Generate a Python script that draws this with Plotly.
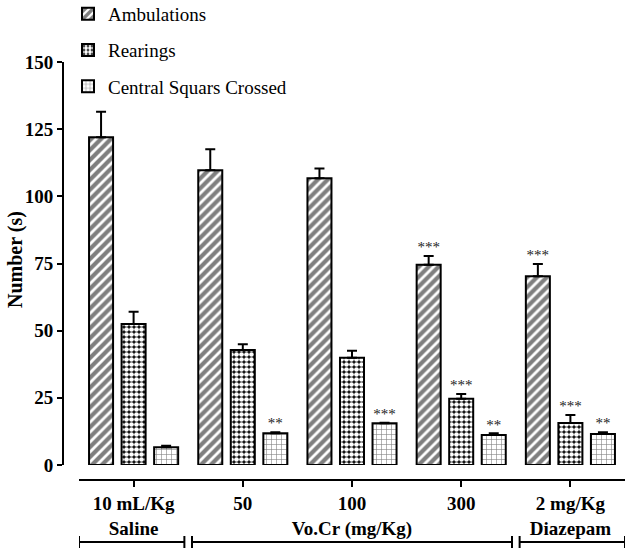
import plotly.graph_objects as go

# ---------------- data ----------------
groups = ["10 mL/Kg<br>Saline", "50", "100<br>Vo.Cr (mg/Kg)", "300", "2 mg/Kg<br>Diazepam"]
series_names = ["Ambulations", "Rearings", "Central Squars Crossed"]

ambulations = [122, 109.7, 106.7, 74.5, 70.3]
ambulations_err = [9.5, 7.8, 3.7, 3.3, 4.5]
ambulations_sig = ["", "", "", "***", "***"]

rearings = [52.5, 42.8, 39.9, 24.7, 15.6]
rearings_err = [4.5, 2.1, 2.6, 1.7, 3.0]
rearings_sig = ["", "", "", "***", "***"]

central = [6.6, 11.8, 15.5, 11.2, 11.5]
central_err = [0.6, 0.4, 0.2, 0.6, 0.7]
central_sig = ["", "**", "***", "**", "**"]

y_ticks = [0, 25, 50, 75, 100, 125, 150]
y_title = "Number (s)"

# group brackets: label, first group index, last group index
brackets = [("Saline", 0, 0), ("Vo.Cr (mg/Kg)", 1, 3), ("Diazepam", 4, 4)]

# ---------------- style ----------------
FONT = "Liberation Serif"
patterns = [
    dict(shape="/", fgcolor="black", bgcolor="white", size=7, solidity=0.6),
    dict(shape=".", fgcolor="white", bgcolor="black", size=5, solidity=0.7, fillmode="replace"),
    dict(shape="+", fgcolor="black", bgcolor="white", size=5, solidity=0.22),
]
slot = 0.298
bar_w = 0.22

fig = go.Figure()
all_vals = [ambulations, rearings, central]
all_errs = [ambulations_err, rearings_err, central_err]
all_sigs = [ambulations_sig, rearings_sig, central_sig]

for k, (name, vals, errs, sigs, pat) in enumerate(zip(series_names, all_vals, all_errs, all_sigs, patterns)):
    xs = [i + (k - 1) * slot for i in range(len(groups))]
    fig.add_trace(go.Bar(
        x=xs, y=vals, width=bar_w, name=name, legendgroup=name,
        marker=dict(color="white", line=dict(color="black", width=2), pattern=pat),
        error_y=dict(type="data", array=errs, arrayminus=[0] * len(errs), symmetric=False,
                     color="black", thickness=2, width=5),
    ))
    fig.add_trace(go.Scatter(
        x=xs, y=[v + e for v, e in zip(vals, errs)], mode="text", text=sigs,
        textposition="top center", textfont=dict(family=FONT, size=15, color="#222222"),
        showlegend=False, hoverinfo="skip",
    ))

W, H = 633, 555
ml, mr, mt, mb = 63, 8, 62, 75
pw = W - ml - mr
ph = H - mt - mb

shapes = []
gap = 0.035
yb = -62 / ph
cap = 6 / ph
for label, a, b in brackets:
    x0 = a - 0.5 + (gap if a > 0 else 0)
    x1 = b + 0.5 - (gap if b < len(groups) - 1 else 0)
    shapes.append(dict(type="line", xref="x", yref="paper", x0=x0, x1=x1, y0=yb, y1=yb,
                       line=dict(color="black", width=2)))
    for xx in (x0, x1):
        shapes.append(dict(type="line", xref="x", yref="paper", x0=xx, x1=xx, y0=yb - cap, y1=yb + cap,
                           line=dict(color="black", width=2)))

fig.add_annotation(text=y_title, xref="paper", yref="paper", x=-48 / pw, y=220 / ph,
                   textangle=-90, showarrow=False, xanchor="center", yanchor="middle",
                   font=dict(family=FONT, size=20, weight="bold", color="black"))

fig.update_layout(
    width=W, height=H,
    margin=dict(l=ml, r=mr, t=mt, b=mb, autoexpand=False),
    plot_bgcolor="white", paper_bgcolor="white",
    barmode="overlay",
    font=dict(family=FONT, color="black"),
    shapes=shapes,
    legend=dict(x=5 / pw, y=1 + 67 / ph, xanchor="left", yanchor="top",
                font=dict(family=FONT, size=19), tracegroupgap=8.5,
                bgcolor="rgba(0,0,0,0)"),
    xaxis=dict(domain=[16 / pw, 1], anchor="free", position=0, range=[-0.5, len(groups) - 0.5],
               tickvals=list(range(len(groups))), ticktext=groups, automargin=False,
               showline=True, linecolor="black", linewidth=2,
               ticks="outside", ticklen=6, tickwidth=2, tickcolor="black",
               showgrid=False, zeroline=False,
               tickfont=dict(family=FONT, size=19, weight="bold")),
    yaxis=dict(domain=[15 / ph, 1], anchor="free", position=0, range=[0, 150],
               tickvals=y_ticks, showline=True, linecolor="black", linewidth=2, automargin=False,
               ticks="outside", ticklen=5, tickwidth=2, tickcolor="black",
               showgrid=False, zeroline=False,
               tickfont=dict(family=FONT, size=19, weight="bold")),
)

fig.write_html("out.html", config={"displayModeBar": False},
               post_script="document.body.style.margin='0';")
